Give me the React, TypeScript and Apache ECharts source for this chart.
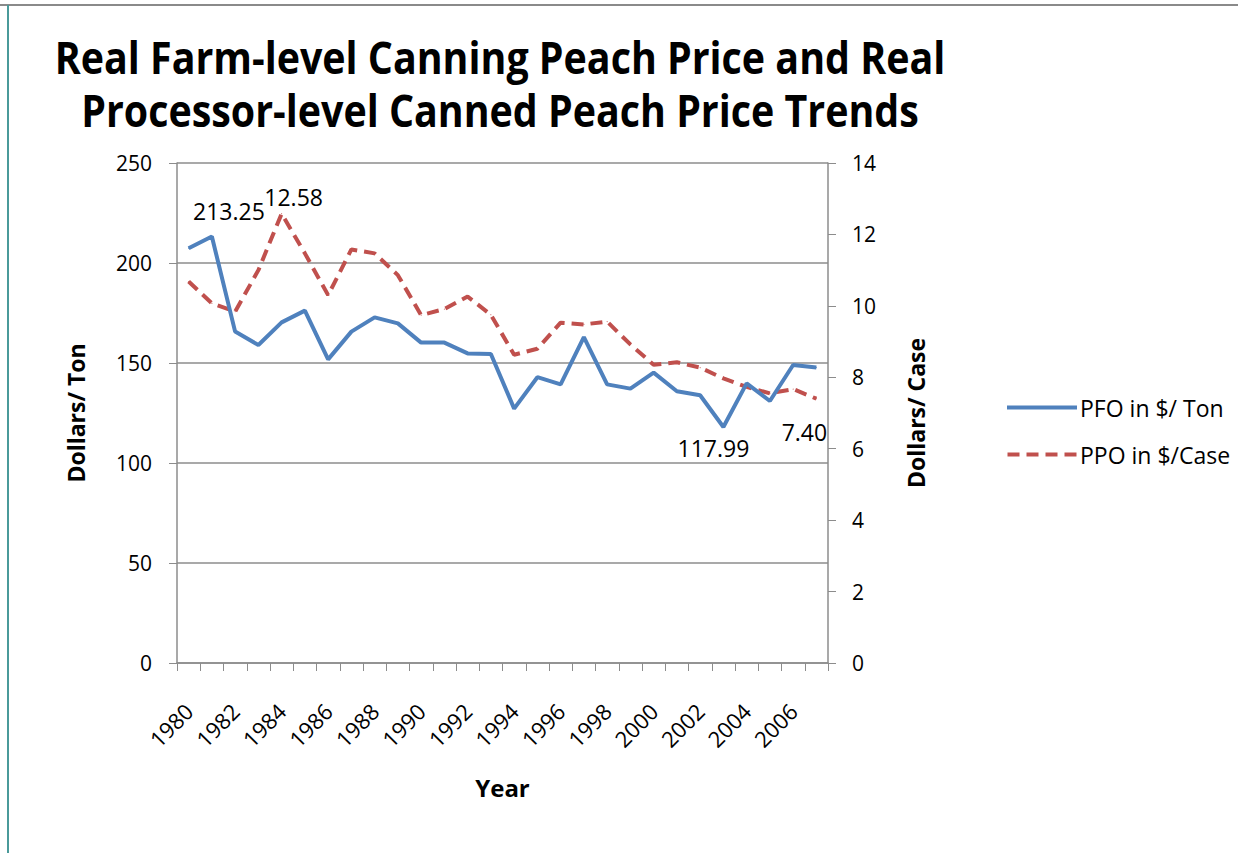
import React, { useEffect, useRef } from "react";
import * as echarts from "echarts";

const years = ["1980","1981","1982","1983","1984","1985","1986","1987","1988","1989","1990","1991","1992","1993","1994","1995","1996","1997","1998","1999","2000","2001","2002","2003","2004","2005","2006","2007"];
const pfo = [207.4,213.25,165.7,159,170.3,176.2,151.8,165.7,172.8,169.8,160.2,160.2,154.8,154.5,127.2,142.9,139.3,162.9,139.3,137.2,145.2,135.9,133.9,117.99,139.8,131,149,147.7];
const ppo = [10.68,10.07,9.84,11.0,12.58,11.47,10.3,11.58,11.47,10.86,9.74,9.91,10.26,9.75,8.63,8.8,9.53,9.48,9.56,8.92,8.35,8.42,8.27,7.97,7.73,7.55,7.67,7.40];
const pfoLabelIdx = [1, 23];
const ppoLabelIdx = [4, 27];
const titleLines = [
  "Real Farm-level Canning Peach Price and Real",
  "Processor-level Canned Peach Price Trends",
];

const TFONT = "'Open Sans', sans-serif";

export default function App() {
  const ref = useRef<HTMLDivElement>(null);
  useEffect(() => {
    const chart = echarts.init(ref.current!, null, { renderer: "svg" });
    const pfoData = pfo.map((v, i) =>
      pfoLabelIdx.includes(i)
        ? {
            value: v,
            label: {
              show: true,
              position: i === 23 ? "bottom" : "top",
              distance: i === 23 ? 9 : 14,
              offset: i === 1 ? [17, 0] : [-10, 0],
              formatter: v.toFixed(2),
            },
          }
        : v
    );
    const ppoData = ppo.map((v, i) =>
      ppoLabelIdx.includes(i)
        ? {
            value: v,
            label: {
              show: true,
              position: i === 27 ? "bottom" : "top",
              distance: i === 27 ? 14 : 5,
              offset: i === 27 ? [-12, 7] : [12, 0],
              formatter: v.toFixed(2),
            },
          }
        : v
    );
    chart.setOption({
      animation: false,
      backgroundColor: "#fff",
      graphic: [
        { type: "line", shape: { x1: 0, y1: 5, x2: 1238, y2: 5 }, style: { stroke: "#8a8a8a", lineWidth: 2 } },
        { type: "line", shape: { x1: 8, y1: 5, x2: 8, y2: 853 }, style: { stroke: "#4a9a9a", lineWidth: 2 } },
        {
          type: "text",
          x: 500,
          y: 57,
          scaleX: 0.895,
          style: {
            text: titleLines[0],
            align: "center",
            verticalAlign: "middle",
            font: "bold 44px 'Open Sans', sans-serif",
            fill: "#000",
          },
        },
        {
          type: "text",
          x: 500,
          y: 110,
          scaleX: 0.895,
          style: {
            text: titleLines[1],
            align: "center",
            verticalAlign: "middle",
            font: "bold 44px 'Open Sans', sans-serif",
            fill: "#000",
          },
        },
      ],
      legend: {
        orient: "vertical",
        left: 1002,
        top: 391,
        itemWidth: 70,
        itemHeight: 4,
        itemGap: 24,
        textStyle: { fontFamily: TFONT, fontSize: 23, color: "#000", padding: [0, 0, 0, -2] },
        data: [
          { name: "PFO in $/ Ton", icon: "path://M0,0 L70,0 L70,4 L0,4 Z" },
          { name: "PPO in $/Case", icon: "path://M0,0 L12,0 L12,4 L0,4 Z M19,0 L31,0 L31,4 L19,4 Z M38,0 L50,0 L50,4 L38,4 Z M57,0 L69,0 L69,4 L57,4 Z" },
        ],
      },
      grid: { left: 177, right: 410, top: 163, bottom: 190, containLabel: false },
      xAxis: {
        type: "category",
        data: years,
        boundaryGap: true,
        name: "Year",
        nameLocation: "middle",
        nameGap: 112,
        nameTextStyle: { fontFamily: TFONT, fontWeight: "bold", fontSize: 24, color: "#000" },
        axisLine: { lineStyle: { color: "#8c8c8c", width: 1.5 } },
        axisTick: { show: true, alignWithLabel: false, interval: 0, length: 8, lineStyle: { color: "#8c8c8c" } },
        axisLabel: {
          interval: 1,
          rotate: 45,
          fontFamily: TFONT,
          fontSize: 22,
          color: "#000",
          margin: 44,
        },
      },
      yAxis: [
        {
          type: "value",
          min: 0,
          max: 250,
          interval: 50,
          name: "Dollars/ Ton",
          nameLocation: "middle",
          nameGap: 90,
          nameTextStyle: { fontFamily: TFONT, fontWeight: "bold", fontSize: 23, color: "#000" },
          axisLine: { show: true, lineStyle: { color: "#8c8c8c", width: 1.5 } },
          axisTick: { show: true, length: 8, lineStyle: { color: "#8c8c8c" } },
          axisLabel: { fontFamily: TFONT, fontSize: 21, color: "#000", margin: 25 },
          splitLine: { show: true, lineStyle: { color: "#8c8c8c", width: 1.5 } },
        },
        {
          type: "value",
          min: 0,
          max: 14,
          interval: 2,
          name: "Dollars/ Case",
          nameLocation: "middle",
          nameGap: 76,
          nameTextStyle: { fontFamily: TFONT, fontWeight: "bold", fontSize: 23, color: "#000" },
          axisLine: { show: true, lineStyle: { color: "#8c8c8c", width: 1.5 } },
          axisTick: { show: true, length: 8, lineStyle: { color: "#8c8c8c" } },
          axisLabel: { fontFamily: TFONT, fontSize: 21, color: "#000", margin: 24 },
          splitLine: { show: false },
        },
      ],
      series: [
        {
          name: "PFO in $/ Ton",
          type: "line",
          yAxisIndex: 0,
          data: pfoData,
          symbol: "circle",
          symbolSize: 1,
          showSymbol: true,
          lineStyle: { color: "#4F81BD", width: 4 },
          itemStyle: { color: "#4F81BD" },
          label: { show: false, fontFamily: TFONT, fontSize: 23, color: "#000" },
          z: 3,
        },
        {
          name: "PPO in $/Case",
          type: "line",
          yAxisIndex: 1,
          data: ppoData,
          symbol: "circle",
          symbolSize: 1,
          showSymbol: true,
          lineStyle: { color: "#C0504D", width: 4, type: [12, 7] },
          itemStyle: { color: "#C0504D" },
          label: { show: false, fontFamily: TFONT, fontSize: 23, color: "#000" },
          z: 2,
        },
      ],
    });
    return () => chart.dispose();
  }, []);
  return (
    <div
      ref={ref}
      style={{ position: "fixed", left: 0, top: 0, width: 1238, height: 853 }}
    />
  );
}
